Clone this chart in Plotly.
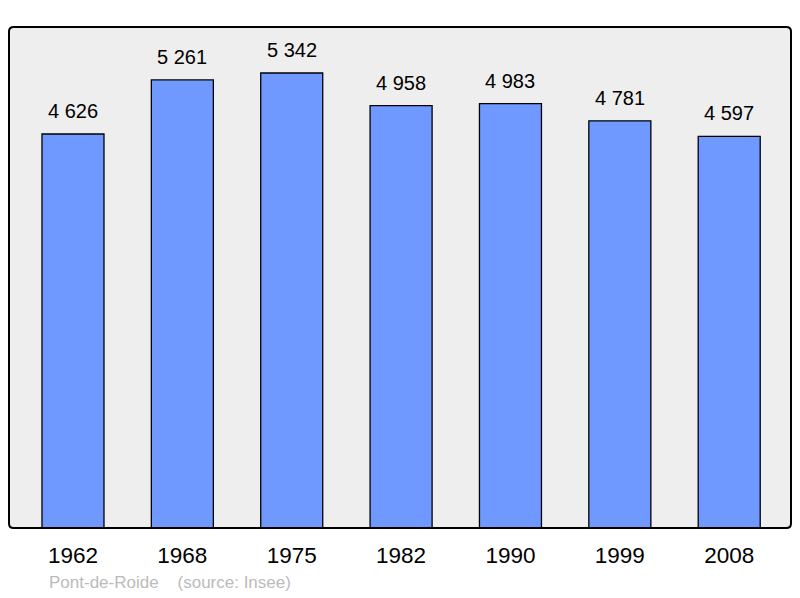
import plotly.graph_objects as go

years = ["1962", "1968", "1975", "1982", "1990", "1999", "2008"]
population = [4626, 5261, 5342, 4958, 4983, 4781, 4597]
labels = ["4 626", "5 261", "5 342", "4 958", "4 983", "4 781", "4 597"]

xs = list(range(len(years)))
FONT = "Liberation Sans, Arial, sans-serif"

fig = go.Figure()
fig.add_trace(go.Bar(
    x=xs, y=population, width=0.567,
    marker=dict(color="#7099ff", line=dict(color="#000000", width=1.3)),
    hoverinfo="skip",
))

annotations = [dict(x=x, y=v, text=t, xref="x", yref="y", showarrow=False,
                    yanchor="bottom", yshift=10,
                    font=dict(family=FONT, size=20, color="#000000"))
               for x, v, t in zip(xs, population, labels)]
annotations.append(dict(text="Pont-de-Roide&nbsp;&nbsp;&nbsp;&nbsp;(source: Insee)", xref="paper", yref="paper",
                        x=0.048, y=-0.109, xanchor="left", yanchor="middle", showarrow=False,
                        font=dict(family=FONT, size=17, color="#bbbbbb")))

fig.update_layout(
    width=800, height=598,
    margin=dict(l=9, r=9, t=27, b=70, autoexpand=False),
    paper_bgcolor="#ffffff", plot_bgcolor="#eeeeee",
    showlegend=False,
    xaxis=dict(range=[-0.585, 6.565], tickmode="array", tickvals=xs, ticktext=years,
               showgrid=False, zeroline=False, ticks="outside", ticklen=7, tickcolor="rgba(0,0,0,0)",
               tickfont=dict(family=FONT, size=22.5, color="#000000")),
    yaxis=dict(range=[0, 5882], showgrid=False, zeroline=False, showticklabels=False, ticks=""),
    font=dict(family=FONT),
    annotations=annotations,
)

# rounded frame around plot area
x0, x1, y0, y1, r = 0, 1, 0, 1, 0.006
fig.add_shape(type="path", xref="paper", yref="paper",
              path=f"M {x0+r},{y0} L {x1-r},{y0} Q {x1},{y0} {x1},{y0+r*1.5} L {x1},{y1-r*1.5} Q {x1},{y1} {x1-r},{y1} "
                   f"L {x0+r},{y1} Q {x0},{y1} {x0},{y1-r*1.5} L {x0},{y0+r*1.5} Q {x0},{y0} {x0+r},{y0} Z",
              line=dict(color="#000000", width=2))

fig.write_html("out.html", config={"displayModeBar": False},
               post_script="document.body.style.margin='0';document.body.style.overflow='hidden';")
